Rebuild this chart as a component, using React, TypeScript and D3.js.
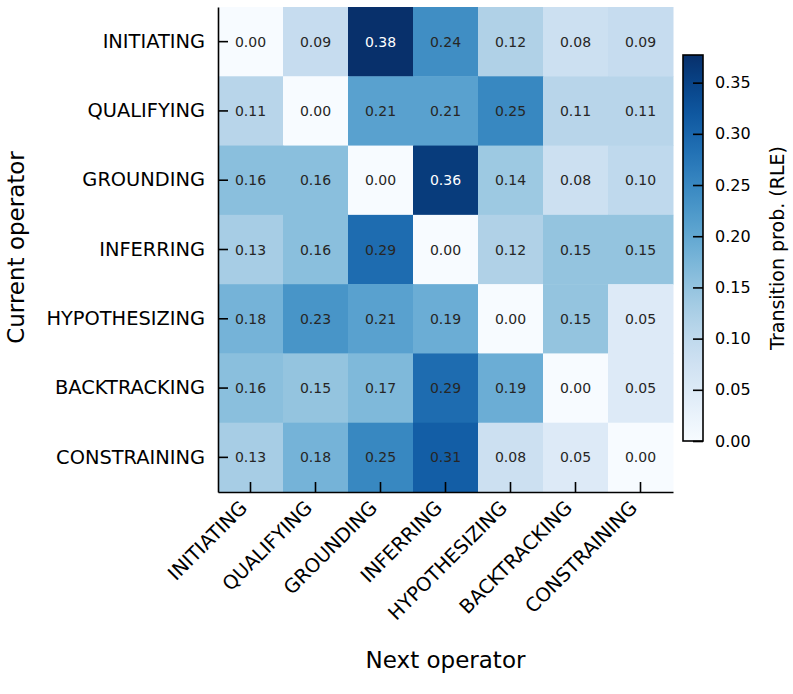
import React, { useEffect, useRef } from "react";
import * as d3 from "d3";

// operator names, same order on both axes
const operators = [
  "INITIATING",
  "QUALIFYING",
  "GROUNDING",
  "INFERRING",
  "HYPOTHESIZING",
  "BACKTRACKING",
  "CONSTRAINING",
];

// transition probabilities, one row per current operator
const initiatingRow = [0.0, 0.09, 0.38, 0.24, 0.12, 0.08, 0.09];
const qualifyingRow = [0.11, 0.0, 0.21, 0.21, 0.25, 0.11, 0.11];
const groundingRow = [0.16, 0.16, 0.0, 0.36, 0.14, 0.08, 0.1];
const inferringRow = [0.13, 0.16, 0.29, 0.0, 0.12, 0.15, 0.15];
const hypothesizingRow = [0.18, 0.23, 0.21, 0.19, 0.0, 0.15, 0.05];
const backtrackingRow = [0.16, 0.15, 0.17, 0.29, 0.19, 0.0, 0.05];
const constrainingRow = [0.13, 0.18, 0.25, 0.31, 0.08, 0.05, 0.0];

const rows = [
  initiatingRow,
  qualifyingRow,
  groundingRow,
  inferringRow,
  hypothesizingRow,
  backtrackingRow,
  constrainingRow,
];

const colorTicks = [0, 0.05, 0.1, 0.15, 0.2, 0.25, 0.3, 0.35];
const colorMax = 0.377;

const FONT = "DejaVu Sans, sans-serif";

const App = () => {
  const svgRef = useRef(null);
  const width = 793;
  const height = 694;
  const plot = { left: 218, right: 673, top: 7, bottom: 492 };
  const bar = { left: 683, right: 703, top: 55, bottom: 441 };

  useEffect(() => {
    const svg = d3.select(svgRef.current);
    svg.selectAll("*").remove();

    const x = d3.scaleBand().domain(operators).range([plot.left, plot.right]);
    const y = d3.scaleBand().domain(operators).range([plot.top, plot.bottom]);
    const color = d3
      .scaleSequential(d3.interpolateBlues)
      .domain([0, colorMax])
      .clamp(true);

    const cells = rows.flatMap((row, i) =>
      row.map((v, j) => ({ from: operators[i], to: operators[j], v }))
    );

    // heatmap cells
    svg
      .append("g")
      .selectAll("rect")
      .data(cells)
      .enter()
      .append("rect")
      .attr("x", (d) => x(d.to))
      .attr("y", (d) => y(d.from))
      .attr("width", x.bandwidth() + 0.5)
      .attr("height", y.bandwidth() + 0.5)
      .attr("fill", (d) => color(d.v));

    // value annotations
    svg
      .append("g")
      .selectAll("text")
      .data(cells)
      .enter()
      .append("text")
      .attr("x", (d) => x(d.to) + x.bandwidth() / 2)
      .attr("y", (d) => y(d.from) + y.bandwidth() / 2)
      .attr("dy", "0.36em")
      .attr("text-anchor", "middle")
      .attr("font-family", FONT)
      .attr("font-size", 14)
      .attr("fill", (d) => (d.v > 0.33 ? "#ffffff" : "#262626"))
      .text((d) => d.v.toFixed(2));

    // left axis, ticks pointing inward
    const yAxis = svg
      .append("g")
      .attr("transform", `translate(${plot.left},0)`)
      .call(d3.axisLeft(y).tickSizeInner(-10).tickSizeOuter(0).tickPadding(13));
    yAxis.select(".domain").attr("stroke", "#000").attr("stroke-width", 1.6);
    yAxis.selectAll(".tick line").attr("stroke", "#000").attr("stroke-width", 1.6);
    yAxis
      .selectAll(".tick text")
      .attr("font-family", FONT)
      .attr("font-size", 19.4)
      .attr("fill", "#000");

    // bottom axis with slanted labels
    const xAxis = svg
      .append("g")
      .attr("transform", `translate(0,${plot.bottom})`)
      .call(d3.axisBottom(x).tickSizeInner(-10).tickSizeOuter(0));
    xAxis.select(".domain").attr("stroke", "#000").attr("stroke-width", 1.6);
    xAxis.selectAll(".tick line").attr("stroke", "#000").attr("stroke-width", 1.6);
    xAxis
      .selectAll(".tick text")
      .attr("x", 0)
      .attr("y", 0)
      .attr("dy", 0)
      .attr("transform", "translate(-2,17) rotate(-45)")
      .attr("text-anchor", "end")
      .attr("font-family", FONT)
      .attr("font-size", 19.4)
      .attr("fill", "#000");

    // axis titles
    svg
      .append("text")
      .attr("x", (plot.left + plot.right) / 2)
      .attr("y", 668)
      .attr("text-anchor", "middle")
      .attr("font-family", FONT)
      .attr("font-size", 23)
      .text("Next operator");

    svg
      .append("text")
      .attr("transform", `translate(24,${(plot.top + plot.bottom) / 2 - 2}) rotate(-90)`)
      .attr("text-anchor", "middle")
      .attr("font-family", FONT)
      .attr("font-size", 23)
      .text("Current operator");

    // colorbar
    const cScale = d3
      .scaleLinear()
      .domain([0, colorMax])
      .range([bar.bottom, bar.top]);

    const defs = svg.append("defs");
    const grad = defs
      .append("linearGradient")
      .attr("id", "blues-bar")
      .attr("x1", 0)
      .attr("y1", 1)
      .attr("x2", 0)
      .attr("y2", 0);
    d3.range(0, 1.0001, 0.05).forEach((t) => {
      grad
        .append("stop")
        .attr("offset", `${t * 100}%`)
        .attr("stop-color", d3.interpolateBlues(t));
    });

    svg
      .append("rect")
      .attr("x", bar.left)
      .attr("y", bar.top)
      .attr("width", bar.right - bar.left)
      .attr("height", bar.bottom - bar.top)
      .attr("fill", "url(#blues-bar)")
      .attr("stroke", "#000")
      .attr("stroke-width", 1.6);

    const cAxis = svg
      .append("g")
      .attr("transform", `translate(${bar.right},0)`)
      .call(
        d3
          .axisRight(cScale)
          .tickValues(colorTicks)
          .tickFormat(d3.format(".2f"))
          .tickSizeInner(-10)
          .tickSizeOuter(0)
          .tickPadding(12)
      );
    cAxis.select(".domain").remove();
    cAxis.selectAll(".tick line").attr("stroke", "#000").attr("stroke-width", 1.6);
    cAxis
      .selectAll(".tick text")
      .attr("font-family", FONT)
      .attr("font-size", 16)
      .attr("fill", "#000");

    svg
      .append("text")
      .attr("transform", `translate(784,${(bar.top + bar.bottom) / 2}) rotate(-90)`)
      .attr("text-anchor", "middle")
      .attr("font-family", FONT)
      .attr("font-size", 19)
      .text("Transition prob. (RLE)");
  }, []);

  return (
    <div style={{ position: "absolute", left: 0, top: 0 }}>
      <svg ref={svgRef} width={width} height={height} style={{ display: "block", background: "#fff" }} />
    </div>
  );
};

export default App;
